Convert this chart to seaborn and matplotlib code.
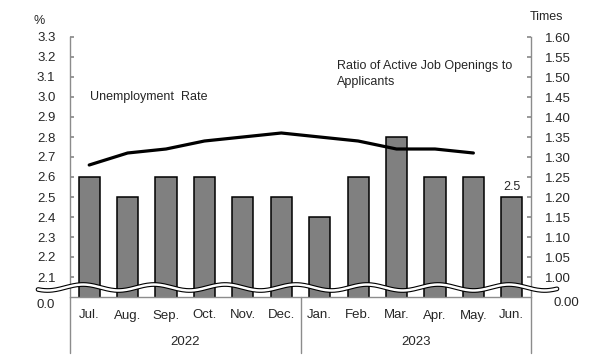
import numpy as np
import pandas as pd
import matplotlib
matplotlib.use("Agg")
import matplotlib.pyplot as plt
import seaborn as sns
from matplotlib.lines import Line2D
from matplotlib import transforms

# data
months = ["Jul.", "Aug.", "Sep.", "Oct.", "Nov.", "Dec.",
          "Jan.", "Feb.", "Mar.", "Apr.", "May.", "Jun."]
years = ["2022", "2023"]
unemployment = [2.6, 2.5, 2.6, 2.6, 2.5, 2.5, 2.4, 2.6, 2.8, 2.6, 2.6, 2.5]
job_ratio = [1.28, 1.31, 1.32, 1.34, 1.35, 1.36, 1.35, 1.34, 1.32, 1.32, 1.31]
left_ticks = [2.1, 2.2, 2.3, 2.4, 2.5, 2.6, 2.7, 2.8, 2.9, 3.0, 3.1, 3.2, 3.3]
right_ticks = [1.00, 1.05, 1.10, 1.15, 1.20, 1.25, 1.30, 1.35, 1.40, 1.45, 1.50, 1.55, 1.60]

sns.set_theme(style="white")
plt.rcParams["font.family"] = ["Liberation Sans", "DejaVu Sans"]
plt.rcParams["font.size"] = 9

W, H = 608, 356
fig = plt.figure(figsize=(W / 100, H / 100), dpi=100)


def fx(px):
    return px / W


def fy(py):
    return 1 - py / H


ax = fig.add_axes([fx(70), fy(297), fx(531) - fx(70), fy(37) - fy(297)])

df = pd.DataFrame({"month": months, "rate": unemployment})
sns.barplot(data=df, x="month", y="rate", color="#808080", saturation=1,
            width=0.55, edgecolor="black", linewidth=1.1, ax=ax)
ax.set_xlim(-0.5, len(months) - 0.5)
ax.set_ylim(2.0, 3.3)
ax.set_yticks(left_ticks)
ax.set_yticklabels([f"{v:.1f}" for v in left_ticks])
ax.set_xlabel("")
ax.set_ylabel("")

ax2 = ax.twinx()
sns.lineplot(x=np.arange(len(job_ratio)), y=job_ratio, color="black",
             linewidth=2.3, ax=ax2)
ax2.set_ylim(0.95, 1.60)
ax2.set_yticks(right_ticks)
ax2.set_yticklabels([f"{v:.2f}" for v in right_ticks])
ax2.set_ylabel("")

for a in (ax, ax2):
    for s in ("top", "bottom"):
        a.spines[s].set_visible(False)
    for s in ("left", "right"):
        a.spines[s].set_color("#8c8c8c")
        a.spines[s].set_linewidth(1)
ax.spines["right"].set_visible(False)
ax2.spines["left"].set_visible(False)

ax.tick_params(axis="y", direction="in", length=3, color="#8c8c8c", pad=10.5,
               labelsize=9.5)
ax2.tick_params(axis="y", direction="in", length=3, color="#8c8c8c", pad=10,
                labelsize=9.5)
ax.tick_params(axis="x", length=0, pad=9, labelsize=9.5)

# bottom axis line and group separators
blend = transforms.blended_transform_factory(ax.transData, ax.transAxes)
ax.plot([-0.5, len(months) - 0.5], [0, 0], color="#8c8c8c", lw=1,
        transform=blend, clip_on=False)
for xv in (-0.5, 5.5, 11.5):
    ax.plot([xv, xv], [0, -0.215], color="#8c8c8c", lw=1,
            transform=blend, clip_on=False)
ax.text(2.5, -0.173, years[0], transform=blend, ha="center", va="center", fontsize=9.5)
ax.text(8.5, -0.173, years[1], transform=blend, ha="center", va="center", fontsize=9.5)

# axis break wave
xs = np.linspace(38, 557, 400)
ys = 287.5 - 3 * np.cos(2 * np.pi * (xs - 83) / 71)
fig.add_artist(Line2D(fx(xs), fy(ys), color="black", lw=3.4,
                      transform=fig.transFigure, zorder=10))
fig.add_artist(Line2D(fx(xs), fy(ys), color="white", lw=1.8,
                      transform=fig.transFigure, zorder=11))

# zero labels below the break
fig.text(fx(55), fy(305), "0.0", ha="right", va="center", fontsize=9.5)
fig.text(fx(553), fy(303), "0.00", ha="left", va="center", fontsize=9.5)

# units and annotations
fig.text(fx(34), fy(21), "%", ha="left", va="center", fontsize=9)
fig.text(fx(530), fy(17), "Times", ha="left", va="center", fontsize=9)
fig.text(fx(90), fy(97), "Unemployment  Rate", ha="left", va="center", fontsize=9)
fig.text(fx(337), fy(66), "Ratio of Active Job Openings to", ha="left", va="center", fontsize=9)
fig.text(fx(337), fy(82), "Applicants", ha="left", va="center", fontsize=9)
ax.annotate(f"{unemployment[-1]:.1f}", (len(months) - 1, unemployment[-1]),
            xytext=(0, 3), textcoords="offset points", ha="center", va="bottom",
            fontsize=9)

fig.savefig("out.png", dpi=100)
